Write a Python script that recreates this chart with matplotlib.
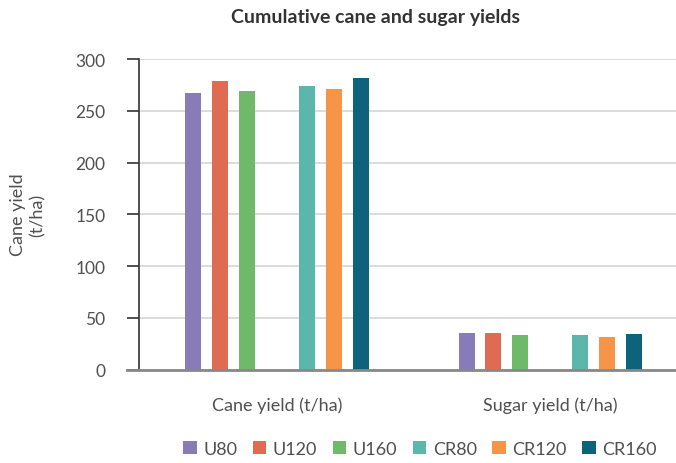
import numpy as np
import matplotlib
matplotlib.use("Agg")
import matplotlib.pyplot as plt
from matplotlib.lines import Line2D

plt.rcParams['font.family'] = ['Lato', 'DejaVu Sans']

categories = ["Cane yield (t/ha)", "Sugar yield (t/ha)"]
series_names = ["U80", "U120", "U160", "CR80", "CR120", "CR160"]
U80 = [267, 35.4]
U120 = [278.7, 35.4]
U160 = [269, 33.5]
CR80 = [274, 33.5]
CR120 = [271, 31.6]
CR160 = [281.6, 34.5]
series_values = [U80, U120, U160, CR80, CR120, CR160]
colors = ["#877cb8", "#e06b53", "#6fba68", "#5bb6ac", "#f69447", "#0d627c"]
yticks = [0, 50, 100, 150, 200, 250, 300]

W, H = 676, 464
fig = plt.figure(figsize=(W / 100, H / 100), dpi=100)
ax_left, ax_right, ax_top, ax_bottom = 139, 676, 60, 370.7
ax = fig.add_axes([ax_left / W, 1 - ax_bottom / H, (ax_right - ax_left) / W, (ax_bottom - ax_top) / H])

offsets = [-0.307, -0.2084, -0.1097, 0.1097, 0.2084, 0.307]
bw = 0.0585
x = np.arange(len(categories))
handles = []
for name, vals, off, c in zip(series_names, series_values, offsets, colors):
    b = ax.bar(x + off, vals, width=bw, color=c, zorder=3, label=name)
    handles.append(b)

txt = "#505050"
ax.set_xlim(-0.5046, 1.459)
ax.set_ylim(0, 300)
ax.set_yticks(yticks)
ax.yaxis.grid(True, color="#d9d9d9", lw=1.3)
ax.set_axisbelow(True)
for s in ["top", "right", "bottom"]:
    ax.spines[s].set_visible(False)
ax.spines["left"].set_color("#333333")
ax.spines["left"].set_linewidth(1.2)
ax.tick_params(axis="y", length=8.6, width=1.2, color="#333333", pad=15.5,
               labelsize=12.5, labelcolor=txt)
ax.set_xticks(x)
ax.set_xticklabels(categories)
ax.tick_params(axis="x", length=0, pad=19, labelsize=13, labelcolor=txt)

# bottom axis line extending left of the y-axis
fig.add_artist(Line2D([127 / W, 1.0], [1 - ax_bottom / H] * 2, color="#888888", lw=2,
                      transform=fig.transFigure))

fig.text(376 / W, 1 - 18 / H, "Cumulative cane and sugar yields", ha="center", va="center",
         fontsize=14, fontweight="bold", color="#333333")
fig.text(28 / W, 1 - 215 / H, "Cane yield\n(t/ha)", ha="center", va="center", rotation=90,
         fontsize=13, color=txt, linespacing=1.25)

leg = fig.legend(handles=handles, labels=series_names, loc="center", ncol=6,
                 bbox_to_anchor=(420 / W, 1 - 450 / H), frameon=False,
                 handlelength=0.75, handleheight=0.75, handletextpad=0.37, columnspacing=0.85,
                 prop={"size": 13}, labelcolor=txt)

fig.savefig("out.png", dpi=100)
